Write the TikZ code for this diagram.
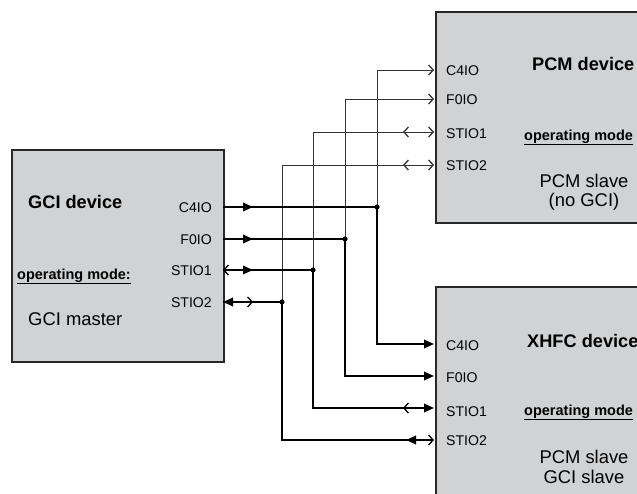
\documentclass[tikz,border=0pt]{standalone}
\usepackage{fontspec}
\setmainfont{Liberation Sans}
\usetikzlibrary{arrows.meta}
\definecolor{boxgray}{RGB}{209,210,212}
\definecolor{edgegray}{RGB}{40,40,40}
\tikzset{
  ftip/.tip={Triangle[length=10pt,width=8.5pt]},
  otip/.tip={Straight Barb[length=4.5pt,width=10pt,line width=1.3pt]},
  dev/.style={draw=edgegray, line width=1.6pt, fill=boxgray, inner sep=0pt, anchor=north west},
  thk/.style={line width=1.8pt, black},
  thn/.style={line width=0.9pt, black!80},
  pinlbl/.style={inner sep=0pt, font=\fontsize{14.1}{16}\selectfont},
  titlelbl/.style={inner sep=0pt, anchor=base west, font=\fontsize{18.2}{20}\selectfont\bfseries},
  modelbl/.style={inner sep=0pt, anchor=base west, font=\fontsize{14.5}{16}\selectfont\bfseries},
  desclbl/.style={inner sep=0pt, align=center, font=\fontsize{18.4}{20}\selectfont},
  jdot/.style={fill=black},
}
\begin{document}
\begin{tikzpicture}[x=1pt,y=-1pt]
\useasboundingbox (0,0) rectangle (637,493);
\clip (0,0) rectangle (637,493);

% boxes
\node[dev, minimum width=212pt, minimum height=212pt] (gci) at (11,149) {};
\node[dev, minimum width=230pt, minimum height=211pt] (pcm) at (435,11) {};
\node[dev, minimum width=230pt, minimum height=230pt] (xhfc) at (435,286) {};

% pin coordinates
\coordinate (g1) at (223,207);
\coordinate (g2) at (223,239);
\coordinate (g3) at (223,270);
\coordinate (g4) at (223,302);
\coordinate (p1) at (434,70);
\coordinate (p2) at (434,99);
\coordinate (p3) at (434,132);
\coordinate (p4) at (434,165);
\coordinate (x1) at (434,344);
\coordinate (x2) at (434,376);
\coordinate (x3) at (434,408);
\coordinate (x4) at (434,440);
% junctions
\coordinate (j1) at (377,207);
\coordinate (j2) at (345,239);
\coordinate (j3) at (313,270);
\coordinate (j4) at (282,302);

% thin lines up to PCM
\draw[thn,-otip] (j1) -- (j1 |- p1) -- (p1);
\draw[thn,-otip] (j2) -- (j2 |- p2) -- (p2);
\draw[thn,-otip] (j3) -- (j3 |- p3) -- (p3);
\draw[thn,-otip] (j4) -- (j4 |- p4) -- (p4);
\draw[thn,-otip] ([xshift=-20pt]p3) -- ([xshift=-31pt]p3);
\draw[thn,-otip] ([xshift=-20pt]p4) -- ([xshift=-31pt]p4);

% thick lines from GCI and down to XHFC
\draw[thk] (g1) -- (j1);
\draw[thk] (g2) -- (j2);
\draw[thk] (g3) -- (j3);
\draw[thk] (g4) -- (j4);
\draw[thk,-ftip] (j1) -- (j1 |- x1) -- (x1);
\draw[thk,-ftip] (j2) -- (j2 |- x2) -- (x2);
\draw[thk,-ftip] (j3) -- (j3 |- x3) -- (x3);
\draw[thk,-otip] (j4) -- (j4 |- x4) -- (x4);
\draw[thk,-otip] ([xshift=-20pt]x3) -- ([xshift=-31pt]x3);
\draw[thk,-ftip] ([xshift=-14pt]x4) -- ([xshift=-28pt]x4);

% GCI side arrow tips
\draw[thk,-ftip] (g1) -- ([xshift=30pt]g1);
\draw[thk,-ftip] (g2) -- ([xshift=30pt]g2);
\draw[thk,-otip] ([xshift=12pt]g3) -- (g3);
\draw[thk,-ftip] (g3) -- ([xshift=30pt]g3);
\draw[thk,-ftip] ([xshift=14pt]g4) -- (g4);
\draw[thk,-otip] (g4) -- ([xshift=30pt]g4);

% junction dots
\fill[jdot] (j1) circle[radius=2.6pt];
\fill[jdot] (j2) circle[radius=2.6pt];
\fill[jdot] (j3) circle[radius=2.6pt];
\fill[jdot] (j4) circle[radius=2.6pt];

% GCI texts
\node[titlelbl] (gcit) at (28,208) {GCI device};
\node[modelbl] (gcim) at (17,279) {\underline{operating mode:}};
\node[inner sep=0pt, anchor=base west, font=\fontsize{18.4}{20}\selectfont] (gcid) at (28,325) {GCI master};
\node[pinlbl, anchor=base east] (gl1) at (212,212.5) {C4IO};
\node[pinlbl, anchor=base east] (gl2) at (212,244.5) {F0IO};
\node[pinlbl, anchor=base east] (gl3) at (212,275.5) {STIO1};
\node[pinlbl, anchor=base east] (gl4) at (212,307.5) {STIO2};

% PCM texts
\node[titlelbl] (pcmt) at (532,70) {PCM device};
\node[modelbl] (pcmm) at (524,140) {\underline{operating mode}};
\node[desclbl, anchor=base] (pcmd) at (584,206) {PCM slave\\[-1pt](no GCI)};
\node[pinlbl, anchor=base west] (pl1) at (446,75) {C4IO};
\node[pinlbl, anchor=base west] (pl2) at (446,104.5) {F0IO};
\node[pinlbl, anchor=base west] (pl3) at (446,138) {STIO1};
\node[pinlbl, anchor=base west] (pl4) at (446,170.5) {STIO2};

% XHFC texts
\node[titlelbl] (xhft) at (527,347) {XHFC device};
\node[modelbl] (xhfm) at (524,415) {\underline{operating mode}};
\node[desclbl, anchor=base] (xhfd) at (584,483) {PCM slave\\[0pt]GCI slave};
\node[pinlbl, anchor=base west] (xl1) at (446,350.5) {C4IO};
\node[pinlbl, anchor=base west] (xl2) at (446,382) {F0IO};
\node[pinlbl, anchor=base west] (xl3) at (446,416) {STIO1};
\node[pinlbl, anchor=base west] (xl4) at (446,445) {STIO2};
\end{tikzpicture}
\end{document}
